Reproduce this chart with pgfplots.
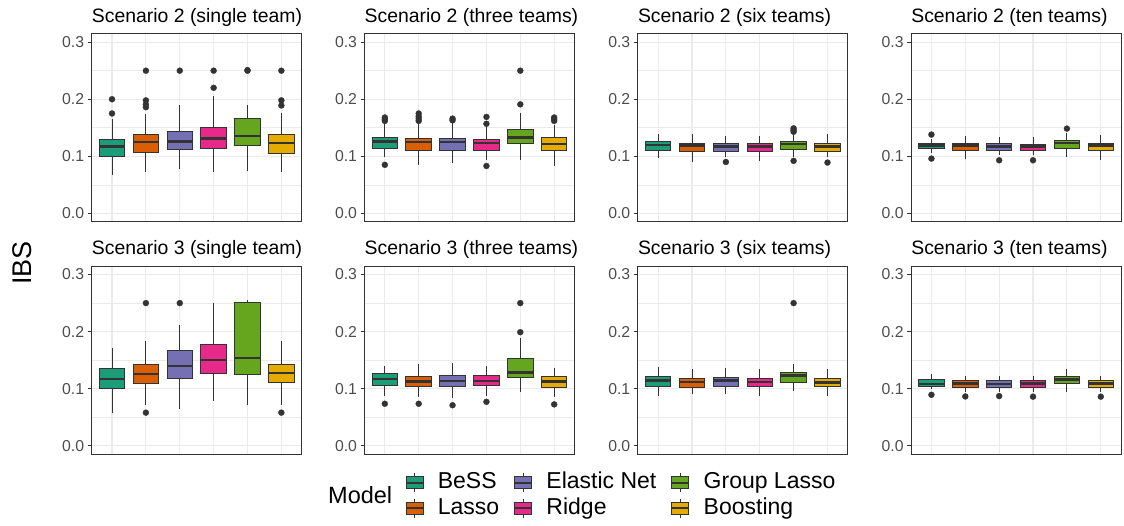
\documentclass[border=0pt]{standalone}
\usepackage{fontspec}
\setmainfont{Liberation Sans}
\usepackage{pgfplots}
\pgfplotsset{compat=1.18}
\usepgfplotslibrary{statistics}
\definecolor{cA}{HTML}{1B9E77}
\definecolor{cB}{HTML}{D95F02}
\definecolor{cC}{HTML}{7570B3}
\definecolor{cD}{HTML}{E7298A}
\definecolor{cE}{HTML}{66A61E}
\definecolor{cF}{HTML}{E6AB02}
\definecolor{grd}{HTML}{333333}
\definecolor{gridc}{HTML}{EBEBEB}
\definecolor{tickc}{HTML}{4D4D4D}
\pgfplotsset{
 panel/.style={
  scale only axis, width=210pt, height=188.3pt,
  xmin=0.4, xmax=6.6, ymin=-0.015, ymax=0.315,
  xtick={1,2,3,4,5,6}, xticklabels={},
  ytick={0,0.1,0.2,0.3}, yticklabels={0.0,0.1,0.2,0.3},
  minor ytick={0.05,0.15,0.25},
  xmajorgrids, ymajorgrids, yminorgrids,
  major grid style={draw=gridc, line width=1.1pt},
  minor grid style={draw=gridc, line width=0.55pt},
  axis line style={draw=grd, line width=0.8pt},
  tick pos=left,
  tick align=outside, major tick length=4pt, minor tick length=0pt,
  ytick style={draw=grd, line width=0.8pt},
  xtick style={draw=none},
  yticklabel style={font=\fontsize{15.8}{18}\selectfont, text=tickc},
  every axis title shift=0pt,
  title style={at={(0,1)}, anchor=base west, yshift=11pt, inner sep=0pt, font=\fontsize{19.4}{23}\selectfont},
 },
 bx/.style={boxplot/draw direction=y, fill=#1, draw=grd, line width=1pt, mark=*, mark size=3pt,
   mark options={fill=grd, draw=grd, line width=0.3pt}, boxplot/box extend=0.75, boxplot/whisker extend=0,
   boxplot/every median/.style={line width=2.4pt}},
 keyimg/.style={legend image code/.code={
   \draw[fill=#1, draw=grd, line width=0.9pt] (0pt,-6pt) rectangle (17pt,6pt);
   \draw[grd, line width=1.6pt] (0pt,0pt) -- (17pt,0pt);
   \draw[grd, line width=0.9pt] (8.5pt,6pt) -- (8.5pt,9.5pt) (8.5pt,-6pt) -- (8.5pt,-9.5pt);
 }},
}
\begin{document}
\begin{tikzpicture}
\useasboundingbox (0,0) rectangle (1124pt,525pt);

% ---------------- Row 1 ----------------
\begin{axis}[panel, at={(91.7pt,303.1pt)}, anchor=south west, title={Scenario 2 (single team)}]
\addplot[bx=cA, boxplot prepared={draw position=1, lower whisker=0.067, lower quartile=0.099, median=0.117, upper quartile=0.130, upper whisker=0.166}] coordinates {(1,0.175) (1,0.200)};
\addplot[bx=cB, boxplot prepared={draw position=2, lower whisker=0.072, lower quartile=0.107, median=0.125, upper quartile=0.138, upper whisker=0.174}] coordinates {(2,0.186) (2,0.191) (2,0.198) (2,0.25)};
\addplot[bx=cC, boxplot prepared={draw position=3, lower whisker=0.077, lower quartile=0.112, median=0.126, upper quartile=0.144, upper whisker=0.189}] coordinates {(3,0.25)};
\addplot[bx=cD, boxplot prepared={draw position=4, lower whisker=0.072, lower quartile=0.113, median=0.131, upper quartile=0.151, upper whisker=0.205}] coordinates {(4,0.22) (4,0.25)};
\addplot[bx=cE, boxplot prepared={draw position=5, lower whisker=0.074, lower quartile=0.119, median=0.136, upper quartile=0.167, upper whisker=0.189}] coordinates {(5,0.25) (5,0.251)};
\addplot[bx=cF, boxplot prepared={draw position=6, lower whisker=0.072, lower quartile=0.105, median=0.123, upper quartile=0.138, upper whisker=0.175}] coordinates {(6,0.189) (6,0.198) (6,0.25)};
\end{axis}

\begin{axis}[panel, at={(364.5pt,303.1pt)}, anchor=south west, title={Scenario 2 (three teams)}]
\addplot[bx=cA, boxplot prepared={draw position=1, lower whisker=0.098, lower quartile=0.114, median=0.126, upper quartile=0.133, upper whisker=0.159}] coordinates {(1,0.162) (1,0.165) (1,0.168) (1,0.085)};
\addplot[bx=cB, boxplot prepared={draw position=2, lower whisker=0.085, lower quartile=0.111, median=0.1245, upper quartile=0.1316, upper whisker=0.159}] coordinates {(2,0.162) (2,0.166) (2,0.170) (2,0.175)};
\addplot[bx=cC, boxplot prepared={draw position=3, lower whisker=0.089, lower quartile=0.111, median=0.1245, upper quartile=0.1316, upper whisker=0.159}] coordinates {(3,0.163) (3,0.166)};
\addplot[bx=cD, boxplot prepared={draw position=4, lower whisker=0.0936, lower quartile=0.111, median=0.123, upper quartile=0.130, upper whisker=0.153}] coordinates {(4,0.157) (4,0.169) (4,0.083)};
\addplot[bx=cE, boxplot prepared={draw position=5, lower whisker=0.0936, lower quartile=0.123, median=0.133, upper quartile=0.147, upper whisker=0.175}] coordinates {(5,0.191) (5,0.25)};
\addplot[bx=cF, boxplot prepared={draw position=6, lower whisker=0.0836, lower quartile=0.111, median=0.121, upper quartile=0.1327, upper whisker=0.154}] coordinates {(6,0.162) (6,0.165) (6,0.168)};
\end{axis}

\begin{axis}[panel, at={(637.8pt,303.1pt)}, anchor=south west, title={Scenario 2 (six teams)}]
\addplot[bx=cA, boxplot prepared={draw position=1, lower whisker=0.0965, lower quartile=0.111, median=0.120, upper quartile=0.1257, upper whisker=0.139}] coordinates {};
\addplot[bx=cB, boxplot prepared={draw position=2, lower whisker=0.0895, lower quartile=0.108, median=0.119, upper quartile=0.123, upper whisker=0.139}] coordinates {};
\addplot[bx=cC, boxplot prepared={draw position=3, lower whisker=0.0994, lower quartile=0.108, median=0.117, upper quartile=0.1216, upper whisker=0.1357}] coordinates {(3,0.090)};
\addplot[bx=cD, boxplot prepared={draw position=4, lower whisker=0.092, lower quartile=0.108, median=0.117, upper quartile=0.1216, upper whisker=0.1357}] coordinates {};
\addplot[bx=cE, boxplot prepared={draw position=5, lower whisker=0.0994, lower quartile=0.1123, median=0.1216, upper quartile=0.1257, upper whisker=0.140}] coordinates {(5,0.143) (5,0.146) (5,0.149) (5,0.092)};
\addplot[bx=cF, boxplot prepared={draw position=6, lower whisker=0.0994, lower quartile=0.108, median=0.117, upper quartile=0.1216, upper whisker=0.139}] coordinates {(6,0.089)};
\end{axis}

\begin{axis}[panel, at={(911.1pt,303.1pt)}, anchor=south west, title={Scenario 2 (ten teams)}]
\addplot[bx=cA, boxplot prepared={draw position=1, lower whisker=0.105, lower quartile=0.1134, median=0.119, upper quartile=0.1228, upper whisker=0.130}] coordinates {(1,0.138) (1,0.0959)};
\addplot[bx=cB, boxplot prepared={draw position=2, lower whisker=0.0947, lower quartile=0.111, median=0.1187, upper quartile=0.1216, upper whisker=0.1357}] coordinates {};
\addplot[bx=cC, boxplot prepared={draw position=3, lower whisker=0.102, lower quartile=0.111, median=0.117, upper quartile=0.1216, upper whisker=0.1345}] coordinates {(3,0.093)};
\addplot[bx=cD, boxplot prepared={draw position=4, lower whisker=0.102, lower quartile=0.1105, median=0.117, upper quartile=0.121, upper whisker=0.1345}] coordinates {(4,0.093)};
\addplot[bx=cE, boxplot prepared={draw position=5, lower whisker=0.0994, lower quartile=0.114, median=0.1228, upper quartile=0.128, upper whisker=0.140}] coordinates {(5,0.1485)};
\addplot[bx=cF, boxplot prepared={draw position=6, lower whisker=0.0936, lower quartile=0.1105, median=0.1187, upper quartile=0.1228, upper whisker=0.1374}] coordinates {};
\end{axis}

% ---------------- Row 2 ----------------
\begin{axis}[panel, at={(91.7pt,70.7pt)}, anchor=south west, title={Scenario 3 (single team)}]
\addplot[bx=cA, boxplot prepared={draw position=1, lower whisker=0.058, lower quartile=0.100, median=0.117, upper quartile=0.135, upper whisker=0.171}] coordinates {};
\addplot[bx=cB, boxplot prepared={draw position=2, lower whisker=0.071, lower quartile=0.1086, median=0.1255, upper quartile=0.143, upper whisker=0.184}] coordinates {(2,0.25) (2,0.058)};
\addplot[bx=cC, boxplot prepared={draw position=3, lower whisker=0.065, lower quartile=0.1185, median=0.1395, upper quartile=0.1675, upper whisker=0.211}] coordinates {(3,0.25)};
\addplot[bx=cD, boxplot prepared={draw position=4, lower whisker=0.079, lower quartile=0.126, median=0.150, upper quartile=0.178, upper whisker=0.250}] coordinates {};
\addplot[bx=cE, boxplot prepared={draw position=5, lower whisker=0.072, lower quartile=0.1255, median=0.1535, upper quartile=0.251, upper whisker=0.255}] coordinates {};
\addplot[bx=cF, boxplot prepared={draw position=6, lower whisker=0.071, lower quartile=0.110, median=0.128, upper quartile=0.142, upper whisker=0.184}] coordinates {(6,0.058)};
\end{axis}

\begin{axis}[panel, at={(364.5pt,70.7pt)}, anchor=south west, title={Scenario 3 (three teams)}]
\addplot[bx=cA, boxplot prepared={draw position=1, lower whisker=0.0876, lower quartile=0.106, median=0.1168, upper quartile=0.126, upper whisker=0.1395}] coordinates {(1,0.0736)};
\addplot[bx=cB, boxplot prepared={draw position=2, lower whisker=0.086, lower quartile=0.103, median=0.1127, upper quartile=0.122, upper whisker=0.1424}] coordinates {(2,0.0736)};
\addplot[bx=cC, boxplot prepared={draw position=3, lower whisker=0.084, lower quartile=0.104, median=0.1138, upper quartile=0.123, upper whisker=0.1448}] coordinates {(3,0.071)};
\addplot[bx=cD, boxplot prepared={draw position=4, lower whisker=0.0876, lower quartile=0.1057, median=0.1138, upper quartile=0.1238, upper whisker=0.1395}] coordinates {(4,0.077)};
\addplot[bx=cE, boxplot prepared={draw position=5, lower whisker=0.095, lower quartile=0.120, median=0.1284, upper quartile=0.1524, upper whisker=0.188}] coordinates {(5,0.199) (5,0.25)};
\addplot[bx=cF, boxplot prepared={draw position=6, lower whisker=0.086, lower quartile=0.102, median=0.1127, upper quartile=0.122, upper whisker=0.1366}] coordinates {(6,0.0725)};
\end{axis}

\begin{axis}[panel, at={(637.8pt,70.7pt)}, anchor=south west, title={Scenario 3 (six teams)}]
\addplot[bx=cA, boxplot prepared={draw position=1, lower whisker=0.0876, lower quartile=0.1045, median=0.114, upper quartile=0.121, upper whisker=0.138}] coordinates {};
\addplot[bx=cB, boxplot prepared={draw position=2, lower whisker=0.090, lower quartile=0.1027, median=0.112, upper quartile=0.1173, upper whisker=0.1337}] coordinates {};
\addplot[bx=cC, boxplot prepared={draw position=3, lower whisker=0.0905, lower quartile=0.104, median=0.114, upper quartile=0.119, upper whisker=0.1354}] coordinates {};
\addplot[bx=cD, boxplot prepared={draw position=4, lower whisker=0.0876, lower quartile=0.104, median=0.112, upper quartile=0.1185, upper whisker=0.1337}] coordinates {};
\addplot[bx=cE, boxplot prepared={draw position=5, lower whisker=0.0963, lower quartile=0.111, median=0.123, upper quartile=0.129, upper whisker=0.143}] coordinates {(5,0.25)};
\addplot[bx=cF, boxplot prepared={draw position=6, lower whisker=0.0876, lower quartile=0.104, median=0.111, upper quartile=0.1173, upper whisker=0.1337}] coordinates {};
\end{axis}

\begin{axis}[panel, at={(911.1pt,70.7pt)}, anchor=south west, title={Scenario 3 (ten teams)}]
\addplot[bx=cA, boxplot prepared={draw position=1, lower whisker=0.0987, lower quartile=0.1045, median=0.108, upper quartile=0.116, upper whisker=0.1255}] coordinates {(1,0.0893)};
\addplot[bx=cB, boxplot prepared={draw position=2, lower whisker=0.0946, lower quartile=0.1027, median=0.109, upper quartile=0.1144, upper whisker=0.1226}] coordinates {(2,0.0864)};
\addplot[bx=cC, boxplot prepared={draw position=3, lower whisker=0.0946, lower quartile=0.1027, median=0.108, upper quartile=0.1144, upper whisker=0.1226}] coordinates {(3,0.087)};
\addplot[bx=cD, boxplot prepared={draw position=4, lower whisker=0.0946, lower quartile=0.1027, median=0.109, upper quartile=0.1144, upper whisker=0.122}] coordinates {(4,0.086)};
\addplot[bx=cE, boxplot prepared={draw position=5, lower whisker=0.0934, lower quartile=0.109, median=0.116, upper quartile=0.121, upper whisker=0.1337}] coordinates {};
\addplot[bx=cF, boxplot prepared={draw position=6, lower whisker=0.0946, lower quartile=0.1027, median=0.109, upper quartile=0.1138, upper whisker=0.1226}] coordinates {(6,0.086)};
\end{axis}

% ---------------- Legend ----------------
\begin{axis}[hide axis, scale only axis, width=10pt, height=10pt, xmin=0, xmax=1, ymin=0, ymax=1,
  at={(405pt,29.5pt)}, anchor=south west,
  legend columns=3, legend cell align=left,
  legend style={at={(0,0)}, anchor=west, draw=none, fill=none, inner sep=0pt,
    font=\fontsize{23}{27}\selectfont,
    nodes={inner sep=2pt, text height=16.5pt, text depth=5pt},
    /tikz/every odd column/.append style={column sep=12pt},
    /tikz/every even column/.append style={column sep=12.7pt}}]
\addlegendimage{keyimg=cA}\addlegendentry{BeSS}
\addlegendimage{keyimg=cC}\addlegendentry{Elastic Net}
\addlegendimage{keyimg=cE}\addlegendentry{Group Lasso}
\addlegendimage{keyimg=cB}\addlegendentry{Lasso}
\addlegendimage{keyimg=cD}\addlegendentry{Ridge}
\addlegendimage{keyimg=cF}\addlegendentry{Boosting}
\end{axis}

\node[anchor=west, inner sep=0pt, font=\fontsize{23.5}{27}\selectfont] at (328pt,29.5pt) {Model};
\node[rotate=90, inner sep=0pt, font=\fontsize{27}{31}\selectfont] at (22pt,262pt) {IBS};
\end{tikzpicture}
\end{document}
